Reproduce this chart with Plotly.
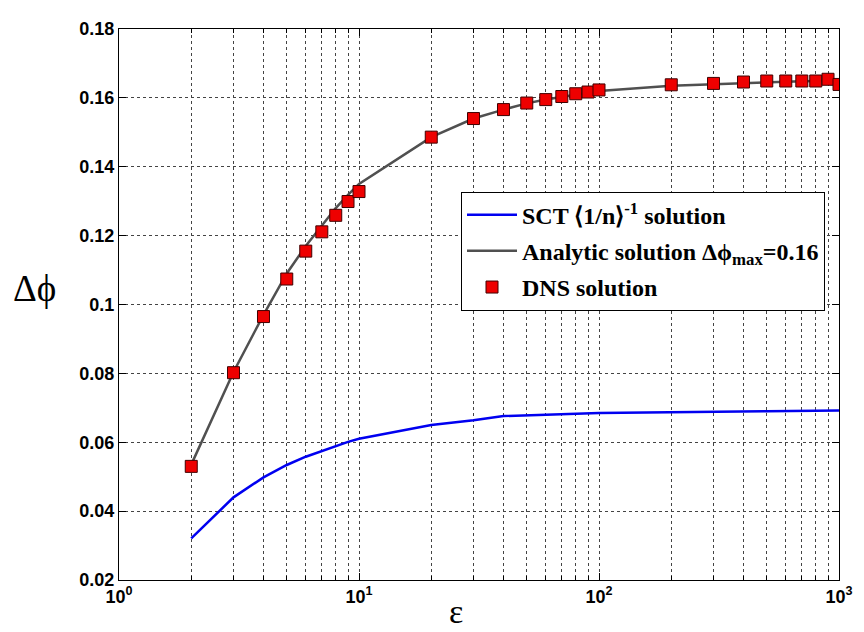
import plotly.graph_objects as go

# DNS solution
dns_eps = [2, 3, 4, 5, 6, 7, 8, 9, 10, 20, 30, 40, 50, 60, 70, 80, 90, 100,
           200, 300, 400, 500, 600, 700, 800, 900, 1000]
dns_dphi = [0.0530, 0.0802, 0.0965, 0.1074, 0.1155, 0.1211, 0.1259, 0.1299, 0.1328,
            0.1486, 0.1540, 0.1566, 0.1585, 0.1595, 0.1604, 0.1612, 0.1617, 0.1623,
            0.1638, 0.1642, 0.1646, 0.1649, 0.1649, 0.1649, 0.1649, 0.1654, 0.1639]

# Analytic solution
ana_eps = [2, 3, 4, 5, 6, 7, 8, 9, 10, 20, 30, 40, 50, 60, 70, 80, 90, 100,
           200, 300, 400, 500, 600, 700, 800, 900, 1000]
ana_dphi = [0.0535, 0.0804, 0.0970, 0.1090, 0.1170, 0.1230, 0.1280, 0.1318, 0.1350,
            0.1486, 0.1540, 0.1566, 0.1584, 0.1595, 0.1603, 0.1610, 0.1615, 0.1620,
            0.1635, 0.1640, 0.1644, 0.1646, 0.1647, 0.1648, 0.1649, 0.1649, 0.1650]

# SCT <1/n>^-1 solution
sct_eps = [2, 3, 4, 5, 6, 7, 8, 9, 10, 20, 30, 40, 100, 200, 500, 1000]
sct_dphi = [0.0321, 0.0440, 0.0498, 0.0534, 0.0558, 0.0575, 0.0589, 0.0601, 0.0610,
            0.0650, 0.0664, 0.0676, 0.0685, 0.0688, 0.0690, 0.0692]

x_major = [1, 10, 100, 1000]
x_major_text = ["10<sup>0</sup>", "10<sup>1</sup>", "10<sup>2</sup>", "10<sup>3</sup>"]
x_minor = [m * d for d in (1, 10, 100) for m in range(2, 10)]
y_ticks = [0.02, 0.04, 0.06, 0.08, 0.1, 0.12, 0.14, 0.16, 0.18]
y_tick_text = ["0.02", "0.04", "0.06", "0.08", "0.1", "0.12", "0.14", "0.16", "0.18"]

fig = go.Figure()
fig.add_trace(go.Scatter(x=sct_eps, y=sct_dphi, mode="lines",
                         line=dict(color="#0000f0", width=2.5), legendgroup="a",
                         name="<b>SCT ⟨1/n⟩<sup>-1</sup> solution</b>"))
fig.add_trace(go.Scatter(x=ana_eps, y=ana_dphi, mode="lines",
                         line=dict(color="#505050", width=2.5), legendgroup="b",
                         name="<b>Analytic solution Δϕ<sub>max</sub>=0.16</b>"))
fig.add_trace(go.Scatter(x=dns_eps, y=dns_dphi, mode="markers", legendgroup="c",
                         marker=dict(symbol="square", size=12, color="#ee0000",
                                     line=dict(color="#400000", width=1)),
                         name="<b>DNS solution</b>"))

tickfont = dict(family="Liberation Sans", size=18, color="black", weight="bold")
grid = dict(showgrid=True, gridcolor="#444444", griddash="dot", gridwidth=1)
fig.update_xaxes(type="log", range=[0, 3], tickmode="array", tickvals=x_major,
                 ticktext=x_major_text, ticks="inside", ticklen=7, tickcolor="black",
                 showline=True, linecolor="black", linewidth=1, mirror="allticks",
                 zeroline=False, tickfont=tickfont,
                 minor=dict(tickmode="array", tickvals=x_minor, ticks="inside", ticklen=4,
                            tickcolor="black", showgrid=True, gridcolor="#444444",
                            griddash="dot", gridwidth=1),
                 **grid)
fig.update_yaxes(range=[0.02, 0.18], tickmode="array", tickvals=y_ticks, ticktext=y_tick_text,
                 ticks="inside", ticklen=7, tickcolor="black",
                 showline=True, linecolor="black", linewidth=1, mirror="allticks",
                 zeroline=False, tickfont=tickfont,
                 **grid)

fig.add_annotation(text="Δϕ", xref="paper", yref="paper", x=-0.117, y=0.529,
                   showarrow=False, xanchor="center", yanchor="middle",
                   font=dict(family="Liberation Serif", size=37, color="black"))
fig.add_annotation(text="ε", xref="paper", yref="paper", x=0.468, y=-0.057,
                   showarrow=False, xanchor="center", yanchor="middle",
                   font=dict(family="Liberation Serif", size=34, color="black"))

fig.update_layout(
    width=856, height=624,
    margin=dict(l=111, r=17, t=11, b=52),
    paper_bgcolor="white", plot_bgcolor="white",
    showlegend=True,
    legend=dict(x=0.475, y=0.705, xanchor="left", yanchor="top",
                bgcolor="white", bordercolor="black", borderwidth=1,
                font=dict(family="Liberation Serif", size=24, color="black"),
                itemwidth=50, tracegroupgap=2),
)

fig.write_html("out.html")
